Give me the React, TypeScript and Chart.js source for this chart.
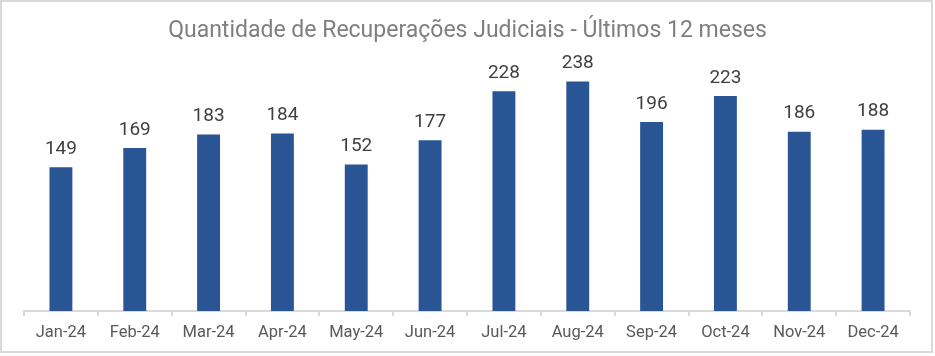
import React, { useEffect, useRef } from "react";
import { Chart, registerables } from "chart.js";

Chart.register(...registerables);

const categories = ["Jan-24", "Feb-24", "Mar-24", "Apr-24", "May-24", "Jun-24", "Jul-24", "Aug-24", "Sep-24", "Oct-24", "Nov-24", "Dec-24"];
const values = [149, 169, 183, 184, 152, 177, 228, 238, 196, 223, 186, 188];
const titleText = "Quantidade de Recuperações Judiciais - Últimos 12 meses";

const W = 935;
const H = 356;

export default function App() {
  const ref = useRef<HTMLCanvasElement | null>(null);
  useEffect(() => {
    document.body.style.margin = "0";
    const canvas = ref.current!;
    const framePlugin = {
      id: "frame",
      beforeDraw(chart: any) {
        const c = chart.ctx;
        c.save();
        c.fillStyle = "#ffffff";
        c.fillRect(0, 0, W, H);
        c.strokeStyle = "#d9d9d9";
        c.lineWidth = 2;
        c.strokeRect(1, 1, W - 4, H - 5);
        c.fillStyle = "#7f7f7f";
        c.font = "23px Roboto";
        c.textAlign = "center";
        c.textBaseline = "alphabetic";
        c.fillText(titleText, 467.5, 37);
        c.restore();
      },
      afterDatasetsDraw(chart: any) {
        const c = chart.ctx;
        const meta = chart.getDatasetMeta(0);
        c.save();
        c.fillStyle = "#404040";
        c.font = "19px Roboto";
        c.textAlign = "center";
        c.textBaseline = "alphabetic";
        meta.data.forEach((bar: any, i: number) => {
          c.fillText(String(values[i]), bar.x, bar.y - 13.5);
        });
        c.restore();
      },
    };
    const chart = new Chart(canvas, {
      type: "bar",
      data: {
        labels: categories,
        datasets: [
          {
            data: values,
            backgroundColor: "#2a5595",
            barPercentage: 0.31,
            categoryPercentage: 1,
          },
        ],
      },
      options: {
        responsive: false,
        animation: false,
        layout: { padding: { left: 24, right: 25, top: 70, bottom: 0 } },
        plugins: { legend: { display: false }, tooltip: { enabled: false }, title: { display: false } },
        scales: {
          x: {
            offset: true,
            grid: { display: true, drawOnChartArea: false, drawTicks: true, tickLength: 5, color: "#d9d9d9", lineWidth: 2, offset: true },
            border: { display: true, color: "#d9d9d9", width: 2 },
            ticks: { color: "#595959", font: { family: "Roboto", size: 16.5 }, padding: 7, maxRotation: 0, autoSkip: false },
            afterFit: (s: any) => {
              s.height = 45;
            },
          },
          y: {
            display: false,
            min: 0,
            max: 250,
          },
        },
      },
      plugins: [framePlugin],
    });
    return () => chart.destroy();
  }, []);
  return (
    <div style={{ position: "absolute", left: 0, top: 0, width: W, height: H }}>
      <canvas ref={ref} width={W} height={H} style={{ width: W, height: H, display: "block" }} />
    </div>
  );
}
